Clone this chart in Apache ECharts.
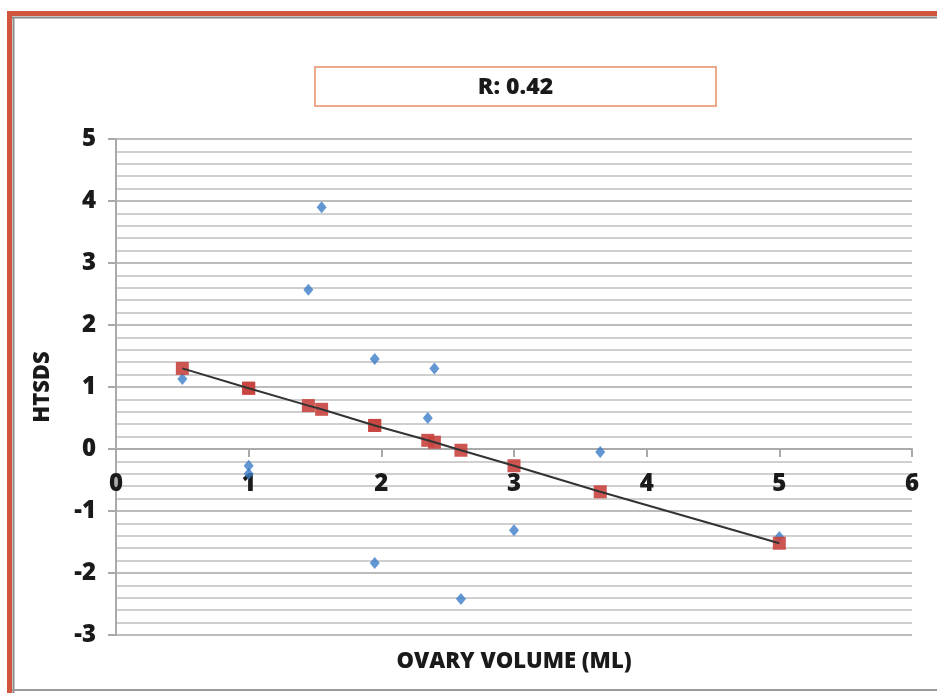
<!DOCTYPE html>
<html><head><meta charset="utf-8">
<script src="https://cdn.jsdelivr.net/npm/echarts@6/dist/echarts.min.js"></script>
<style>html,body{margin:0;padding:0;background:#fff}#c{width:937px;height:693px}</style>
</head><body><div id="c"></div>
<script>
const ovaryVolume = [0.5, 1.0, 1.0, 1.45, 1.55, 1.95, 1.95, 2.35, 2.4, 2.6, 3.0, 3.65, 5.0];
const htsds       = [1.13, -0.27, -0.40, 2.57, 3.90, 1.45, -1.84, 0.50, 1.30, -2.42, -1.31, -0.05, -1.42];
const predicted   = [1.30, 0.98, 0.98, 0.70, 0.64, 0.38, 0.38, 0.14, 0.11, -0.02, -0.27, -0.69, -1.52];
const titleText = 'R: 0.42';
const xName = 'OVARY VOLUME (ML)';
const yName = 'HTSDS';

const FONT = '"Open Sans"';
const chart = echarts.init(document.getElementById('c'));
const obs = ovaryVolume.map((x, i) => [x, htsds[i]]);
const pred = ovaryVolume.map((x, i) => [x, predicted[i]]);
chart.setOption({
  animation: false,
  backgroundColor: '#fff',
  grid: { left: 116, right: 25, top: 139, bottom: 58, containLabel: false, outerBoundsMode: 'none' },
  xAxis: {
    type: 'value', min: 0, max: 6, interval: 1,
    position: 'bottom', offset: -186,
    axisLine: { onZero: false, lineStyle: { color: '#aaa', width: 2 } },
    axisTick: { show: true, length: 8, lineStyle: { color: '#aaa', width: 2 } },
    axisLabel: { margin: 23, color: '#1a1a1a', fontFamily: FONT, fontWeight: 800, fontSize: 24 },
    splitLine: { show: false }
  },
  yAxis: {
    type: 'value', min: -3, max: 5, interval: 1,
    axisLine: { show: true, lineStyle: { color: '#aaa', width: 2 } },
    axisTick: { show: true, length: 8, lineStyle: { color: '#aaa', width: 2 } },
    axisLabel: { margin: 20, color: '#1a1a1a', fontFamily: FONT, fontWeight: 800, fontSize: 24 },
    splitLine: { show: true, lineStyle: { color: '#bdbdbd', width: 2 } },
    minorTick: { show: false, splitNumber: 5 },
    minorSplitLine: { show: true, lineStyle: { color: '#cfcfcf', width: 2 } },
    name: yName, nameLocation: 'middle', nameGap: 62, nameRotate: 90,
    nameTextStyle: { color: '#1a1a1a', fontFamily: FONT, fontWeight: 800, fontSize: 22 }
  },
  series: [
    { type: 'scatter', data: obs, symbol: 'diamond', symbolSize: [10, 12],
      itemStyle: { color: '#3b7dc8' }, z: 3 },
    { type: 'scatter', data: pred, symbol: 'rect', symbolSize: 13,
      itemStyle: { color: '#c9443f', opacity: 0.9 }, z: 4 },
    { type: 'line', data: pred, showSymbol: false, symbol: 'none',
      lineStyle: { color: '#333', width: 2 }, z: 5 }
  ],
  graphic: [
    { type: 'rect', shape: { x: 315, y: 67, width: 401, height: 39 },
      style: { fill: '#fff', stroke: '#eca98c', lineWidth: 2 } },
    { type: 'text', x: 515.5, y: 87,
      style: { text: titleText, fill: '#1a1a1a', font: '800 23px "Open Sans"', textAlign: 'center', textVerticalAlign: 'middle' } },
    { type: 'text', x: 514, y: 662,
      style: { text: xName, fill: '#1a1a1a', font: '800 22px "Open Sans"', textAlign: 'center', textVerticalAlign: 'middle' } },
    { type: 'line', shape: { x1: 8, y1: 17.5, x2: 937, y2: 17.5 }, style: { stroke: '#8a8a8a', lineWidth: 2 } },
    { type: 'line', shape: { x1: 13.5, y1: 17, x2: 13.5, y2: 693 }, style: { stroke: '#8a8a8a', lineWidth: 2 } },
    { type: 'line', shape: { x1: 7, y1: 13.5, x2: 937, y2: 13.5 }, style: { stroke: '#d2553e', lineWidth: 5 } },
    { type: 'line', shape: { x1: 9.5, y1: 11, x2: 9.5, y2: 693 }, style: { stroke: '#d2553e', lineWidth: 5 } },
    { type: 'line', shape: { x1: 12, y1: 690, x2: 937, y2: 690 }, style: { stroke: '#9a9a9a', lineWidth: 2 } }
  ]
});
</script></body></html>
